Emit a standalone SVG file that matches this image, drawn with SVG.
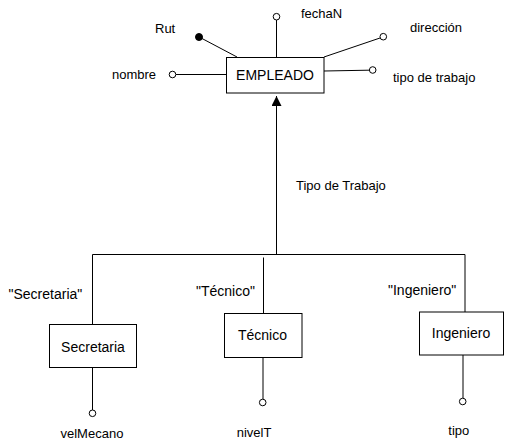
<svg xmlns="http://www.w3.org/2000/svg" width="505" height="441" viewBox="0 0 505 441">
  <style>
    .box { fill: #fff; stroke: #000; stroke-width: 1; }
    .ln { stroke: #000; stroke-width: 1; fill: none; }
    .att { fill: #fff; stroke: #000; stroke-width: 1; }
    .key { fill: #000; stroke: #000; stroke-width: 1; }
    .lbl { font-family: "Liberation Sans", Arial, sans-serif; font-size: 13px; fill: #000; }
    .name { font-family: "Liberation Sans", Arial, sans-serif; font-size: 14px; fill: #000; text-anchor: middle; }
    .disc { font-family: "Liberation Sans", Arial, sans-serif; font-size: 14px; fill: #000; }
  </style>
  <defs>
    <marker id="arrow" viewBox="0 0 10 10" refX="10" refY="5" markerWidth="10" markerHeight="10" markerUnits="userSpaceOnUse" orient="auto">
      <path d="M0,0 L10,5 L0,10 Z" fill="#000"/>
    </marker>
  </defs>

  <!-- connectors -->
  <g id="connectors">
    <!-- attribute stems of EMPLEADO -->
    <line class="ln" x1="176" y1="74.5" x2="226" y2="74.5"/>
    <line class="ln" x1="202" y1="38.5" x2="237" y2="57"/>
    <line class="ln" x1="276.5" y1="20" x2="276.5" y2="57"/>
    <line class="ln" x1="324" y1="57" x2="380" y2="38"/>
    <line class="ln" x1="324" y1="71" x2="369" y2="70.2"/>
    <!-- specialization -->
    <line class="ln" x1="276.5" y1="254" x2="276.5" y2="96" marker-end="url(#arrow)"/>
    <polyline class="ln" points="92.5,324.5 92.5,254.5 465,254.5 465,312"/>
    <line class="ln" x1="263.5" y1="257.5" x2="263.5" y2="313.5"/>
    <!-- attribute stems of subclasses -->
    <line class="ln" x1="92.5" y1="367.5" x2="92.5" y2="410"/>
    <line class="ln" x1="263" y1="357.5" x2="263" y2="399"/>
    <line class="ln" x1="463" y1="355" x2="463" y2="398"/>
  </g>

  <g id="empleado">
    <rect class="box" x="226.5" y="57.5" width="97.5" height="35.5"/>
    <text class="name" x="275" y="80">EMPLEADO</text>
  </g>

  <g id="attr-nombre">
    <circle class="att" cx="172.5" cy="74.5" r="3.3"/>
    <text class="lbl" x="112" y="79">nombre</text>
  </g>
  <g id="attr-rut">
    <circle class="key" cx="199" cy="37" r="3.5"/>
    <text class="lbl" x="155" y="33">Rut</text>
  </g>
  <g id="attr-fechaN">
    <circle class="att" cx="276.5" cy="16.7" r="3.3"/>
    <text class="lbl" x="301" y="18">fechaN</text>
  </g>
  <g id="attr-direccion">
    <circle class="att" cx="383.3" cy="36.7" r="3.3"/>
    <text class="lbl" x="410" y="32">dirección</text>
  </g>
  <g id="attr-tipo-de-trabajo">
    <circle class="att" cx="372.7" cy="70" r="3.3"/>
    <text class="lbl" x="393" y="82">tipo de trabajo</text>
  </g>

  <g id="discriminator">
    <text class="lbl" x="296" y="190">Tipo de Trabajo</text>
  </g>

  <g id="secretaria">
    <text class="disc" x="8.5" y="299">"Secretaria"</text>
    <rect class="box" x="49.5" y="324.5" width="87" height="43"/>
    <text class="name" x="93" y="351.5">Secretaria</text>
    <circle class="att" cx="92.5" cy="413.3" r="3.3"/>
    <text class="lbl" x="60.5" y="438">velMecano</text>
  </g>

  <g id="tecnico">
    <text class="disc" x="196" y="295.5">"Técnico"</text>
    <rect class="box" x="224.5" y="313.5" width="77.5" height="44"/>
    <text class="name" x="262.5" y="340">Técnico</text>
    <circle class="att" cx="262.7" cy="402.5" r="3.3"/>
    <text class="lbl" x="236.7" y="437">nivelT</text>
  </g>

  <g id="ingeniero">
    <text class="disc" x="388" y="294.5">"Ingeniero"</text>
    <rect class="box" x="419.5" y="312" width="84" height="43"/>
    <text class="name" x="461" y="337.5">Ingeniero</text>
    <circle class="att" cx="462.7" cy="401.5" r="3.3"/>
    <text class="lbl" x="448.3" y="435">tipo</text>
  </g>
</svg>
